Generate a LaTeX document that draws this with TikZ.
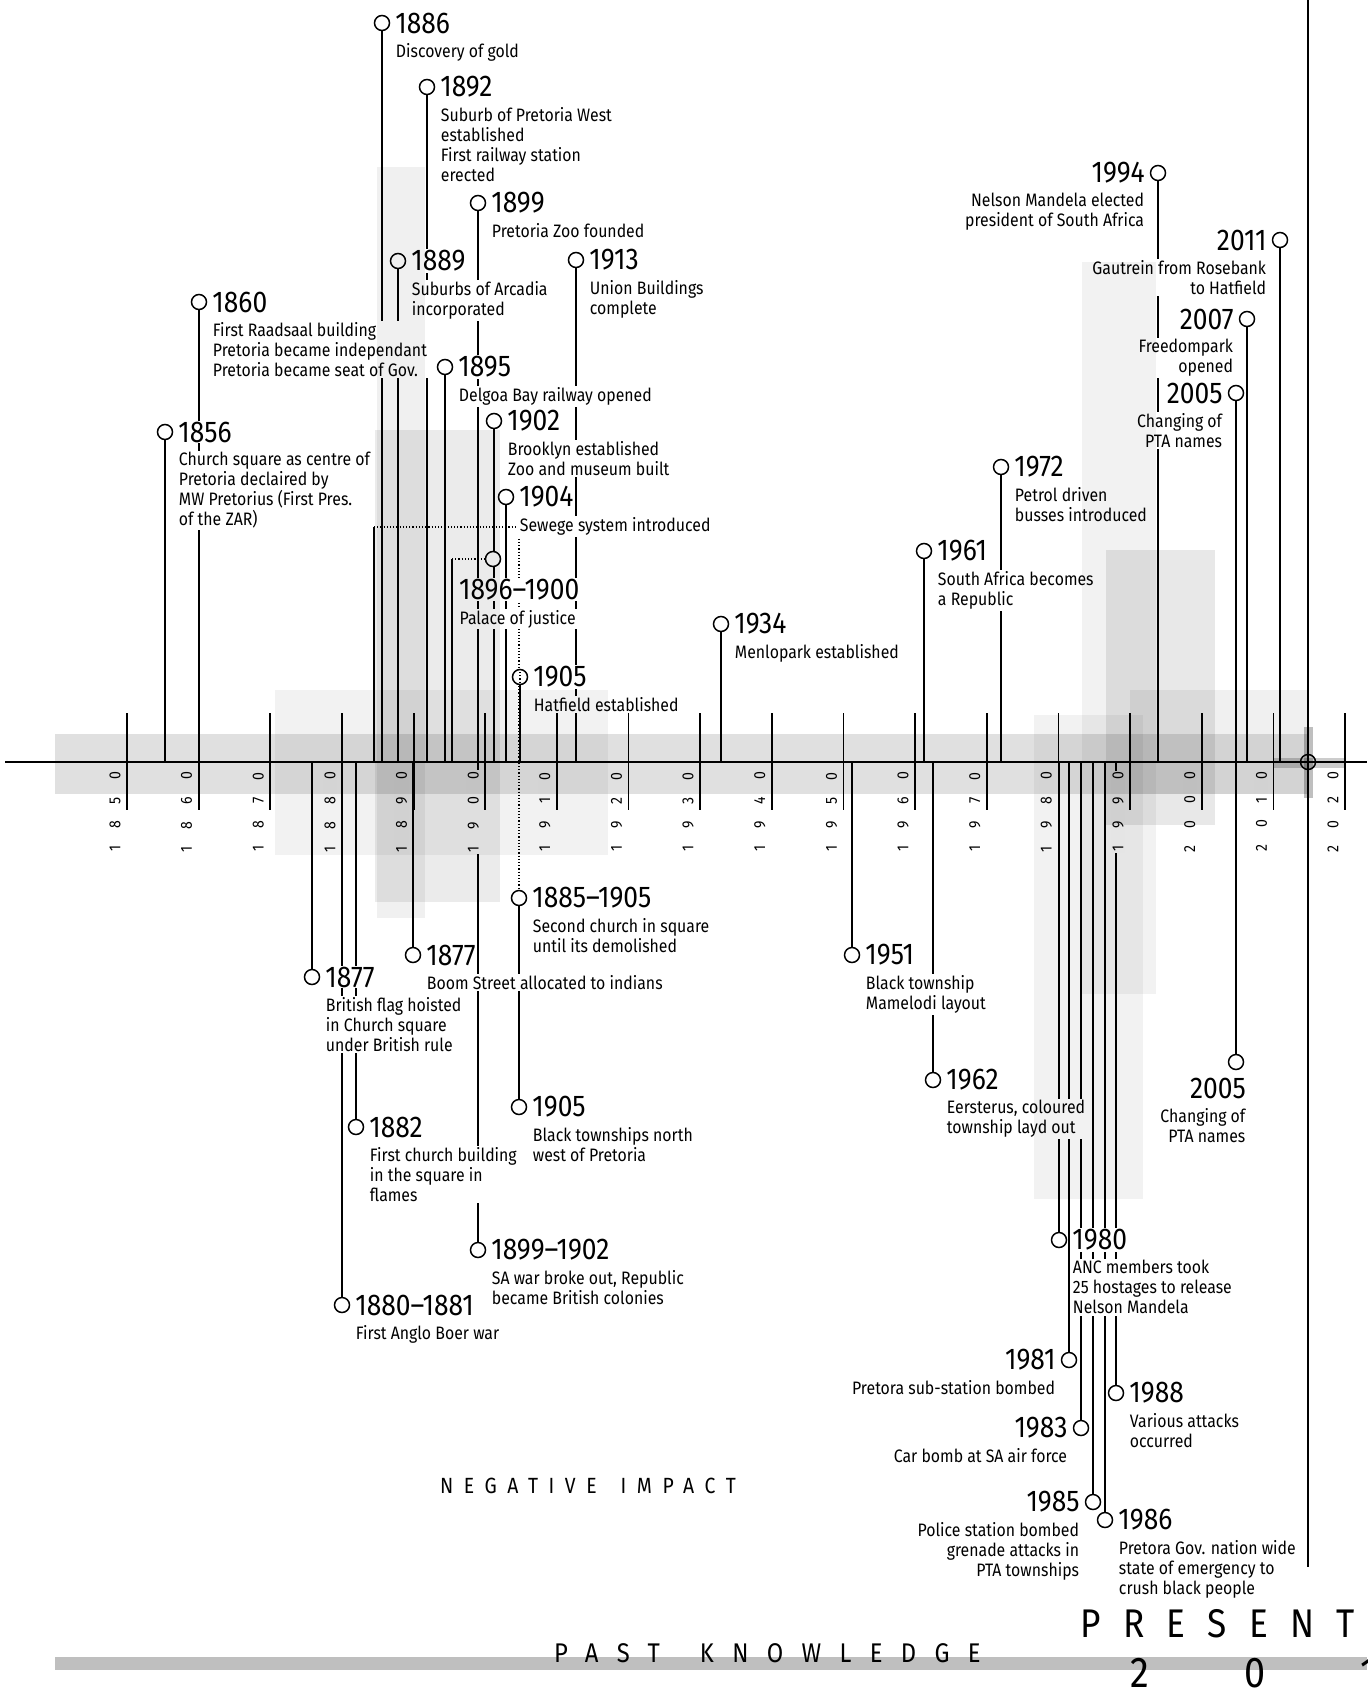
\documentclass[tikz,border=0pt]{standalone}
\usepackage{fontspec}
\setmainfont{Fira Sans}[FakeStretch=0.88]
\usetikzlibrary{positioning}
\pgfdeclarelayer{back}
\pgfdeclarelayer{front}
\pgfsetlayers{back,main,front}
\newcommand\yrfont{\fontsize{30}{32}\selectfont}
\newcommand\txtfont{\fontsize{18}{20}\selectfont}
\newcommand\tickfont{\fontsize{16}{18}\selectfont}
\tikzset{
  ev/.style={circle,draw,fill=white,line width=1.5pt,minimum size=15pt,inner sep=0pt},
  yr/.style={font=\yrfont,fill=white,inner sep=1pt},
  txt/.style={font=\txtfont,fill=white,inner sep=1.5pt},
  stem/.style={line width=1.8pt},
  dots/.style={line width=1.2pt,dotted},
  greybox/.style={fill=black,fill opacity=#1,draw=none},
  greybox/.default=0.06,
  ticklab/.style={font=\tickfont,rotate=90,fill=white,inner sep=1.5pt},
  title/.style={inner sep=0pt,anchor=base west}
}
\begin{document}
\begin{tikzpicture}[x=1pt,y=-1pt]
\useasboundingbox (0,0) rectangle (1367,1693);
% Zeitachse
\coordinate (ax) at (0,762);
\coordinate (axl) at (5,762);
\coordinate (axr) at (1367,762);
\draw[stem] (axl) -- (axr);
\foreach \a/\b/\c [count=\n from 0] in {1/8/5,1/8/6,1/8/7,1/8/8,1/8/9,1/9/0,1/9/1,1/9/2,1/9/3,
    1/9/4,1/9/5,1/9/6,1/9/7,1/9/8,1/9/9,2/0/0,2/0/1,2/0/2}{
  \begin{pgfonlayer}{back}
    \draw[stem] ({127+71.65*\n},713) -- ({127+71.65*\n},810);
  \end{pgfonlayer}
  \node[ticklab] (t\n) at ({115+71.65*\n},812) {\a\kern17pt\b\kern17pt\c\kern17pt0};
}
% Ereignisse, Beschriftung rechts vom Kreis
\foreach \n/\x/\y/\yr/\txt in {
  1856/165/432/1856/{Church square as centre of\\Pretoria declaired by\\MW Pretorius (First Pres.\\of the ZAR)},
  1860/199/302/1860/{First Raadsaal building\\Pretoria became independant\\Pretoria became seat of Gov.},
  1886/382/23/1886/{Discovery of gold},
  1889/398/261/1889/{Suburbs of Arcadia\\incorporated},
  1892/427/87/1892/{Suburb of Pretoria West\\established\\First railway station\\erected},
  1895/445/367/1895/{Delgoa Bay railway opened},
  1899/478/203/1899/{Pretoria Zoo founded},
  1902/494/421/1902/{Brooklyn established\\Zoo and museum built},
  1904/506/497/1904/{Sewege system introduced},
  1905a/520/677/1905/{Hatfield established},
  1913/576/260/1913/{Union Buildings\\complete},
  1934/721/624/1934/{Menlopark established},
  1961/924/551/1961/{South Africa becomes\\a Republic},
  1972/1001/467/1972/{Petrol driven\\busses introduced},
  1877a/312/977/1877/{British flag hoisted\\in Church square\\under British rule},
  1880/342/1305/1880--1881/{First Anglo Boer war},
  1882/356/1127/1882/{First church building\\in the square in\\flames},
  1877b/413/955/1877/{Boom Street allocated to indians},
  1899b/478/1250/1899--1902/{SA war broke out, Republic\\became British colonies},
  1885/519/898/1885--1905/{Second church in square\\until its demolished},
  1905b/519/1107/1905/{Black townships north\\west of Pretoria},
  1951/852/955/1951/{Black township\\Mamelodi layout},
  1962/933/1080/1962/{Eersterus, coloured\\township layd out},
  1980/1059/1240/1980/{ANC members took\\25 hostages to release\\Nelson Mandela},
  1986/1105/1520/1986/{Pretora Gov. nation wide\\state of emergency to\\crush black people},
  1988/1116/1393/1988/{Various attacks\\occurred}}{
  \node[ev] (c\n) at (\x,\y) {};
  \node[yr,right=4pt of c\n] (y\n) {\yr};
  \node[txt,align=left,anchor=north west] (d\n) at ([yshift=-7pt]y\n.south west) {\txt};
}
% Ereignisse, Beschriftung links vom Kreis
\foreach \n/\x/\y/\yr/\txt in {
  1994/1158/173/1994/{Nelson Mandela elected\\president of South Africa},
  2011/1280/240/2011/{Gautrein from Rosebank\\to Hatfield},
  2007/1247/319/2007/{Freedompark\\opened},
  2005a/1236/393/2005/{Changing of\\PTA names},
  1981/1069/1360/1981/{Pretora sub-station bombed},
  1983/1081/1428/1983/{Car bomb at SA air force},
  1985/1093/1502/1985/{Police station bombed\\grenade attacks in\\PTA townships}}{
  \node[ev] (c\n) at (\x,\y) {};
  \node[yr,left=4pt of c\n] (y\n) {\yr};
  \node[txt,align=right,anchor=north east] (d\n) at ([yshift=-7pt]y\n.south east) {\txt};
}
% Sonderfaelle
\node[ev] (c1896) at (493,559) {};
\node[yr,anchor=north west] (y1896) at (458,578) {1896--1900};
\node[txt,anchor=north west] (d1896) at ([yshift=-7pt]y1896.south west) {Palace of justice};
\node[ev] (c2005b) at (1236,1062) {};
\node[yr,anchor=north east] (y2005b) at (1247,1077) {2005};
\node[txt,align=right,anchor=north east] (d2005b) at ([yshift=-7pt]y2005b.south east) {Changing of\\PTA names};
\draw[dots] (c1905a.north) -- (c1905a.south);
\coordinate (k1885) at (374,527);
\coordinate (k1896) at (452,559);
% Linien zur Achse
\begin{pgfonlayer}{back}
  \foreach \n in {1856,1860,1886,1889,1892,1895,1899,1902,1904,1905a,1913,1934,1961,1972,
      1994,2011,2007,2005a,1877a,1880,1882,1877b,1899b,1951,1962,1980,1981,1983,1985,
      1986,1988,2005b}
    \draw[stem] (c\n) -- (c\n |- ax);
  \draw[stem] (k1885) -- (k1885 |- ax);
  \draw[dots] (k1885) -| (c1885);
  \draw[stem] (c1885) -- (c1905b);
  \draw[stem] (k1896) -- (k1896 |- ax);
  \draw[dots] (k1896) -- (c1896);
\end{pgfonlayer}
% Gegenwart
\coordinate (nowtop) at (1308,0);
\coordinate (nowbot) at (1308,1567);
\draw[stem] (nowtop) -- (nowbot);
\node[ev,fill=none] (now) at (1308,762) {};
% graue Flaechen
\begin{pgfonlayer}{front}
  \fill[greybox=0.12] (55,734) rectangle (1307,794);
  \fill[greybox=0.05] (275,690) rectangle (608,855);
  \fill[greybox=0.06] (377,167) rectangle (425,918);
  \fill[greybox=0.08] (375,430) rectangle (500,902);
  \fill[greybox=0.05] (1034,715) rectangle (1143,1199);
  \fill[greybox=0.05] (1082,262) rectangle (1156,994);
  \fill[greybox=0.09] (1106,550) rectangle (1215,825);
  \fill[greybox=0.06] (1130,690) rectangle (1307,794);
  \fill[greybox=0.25] (1304,727) rectangle (1313,798);
  \fill[greybox=0.2] (1273,758) rectangle (1345,768);
\end{pgfonlayer}
% Titel
\fill[black!25] (55,1657) rectangle (1367,1670);
\node[title,font=\fontsize{22}{24}\selectfont\addfontfeature{LetterSpace=48}] (neg) at (440,1493) {NEGATIVE\hspace{24pt}IMPACT};
\node[title,font=\fontsize{27}{30}\selectfont\addfontfeature{LetterSpace=68}] (past) at (554,1662) {PAST\hspace{40pt}KNOWLEDGE};
\node[title,font=\fontsize{40}{44}\selectfont\addfontfeature{LetterSpace=56}] (pres) at (1080,1637) {PRESENT};
\node[title,font=\fontsize{43}{46}\selectfont\addfontfeature{LetterSpace=222}] (yr201) at (1130,1687) {201};
\end{tikzpicture}
\end{document}
